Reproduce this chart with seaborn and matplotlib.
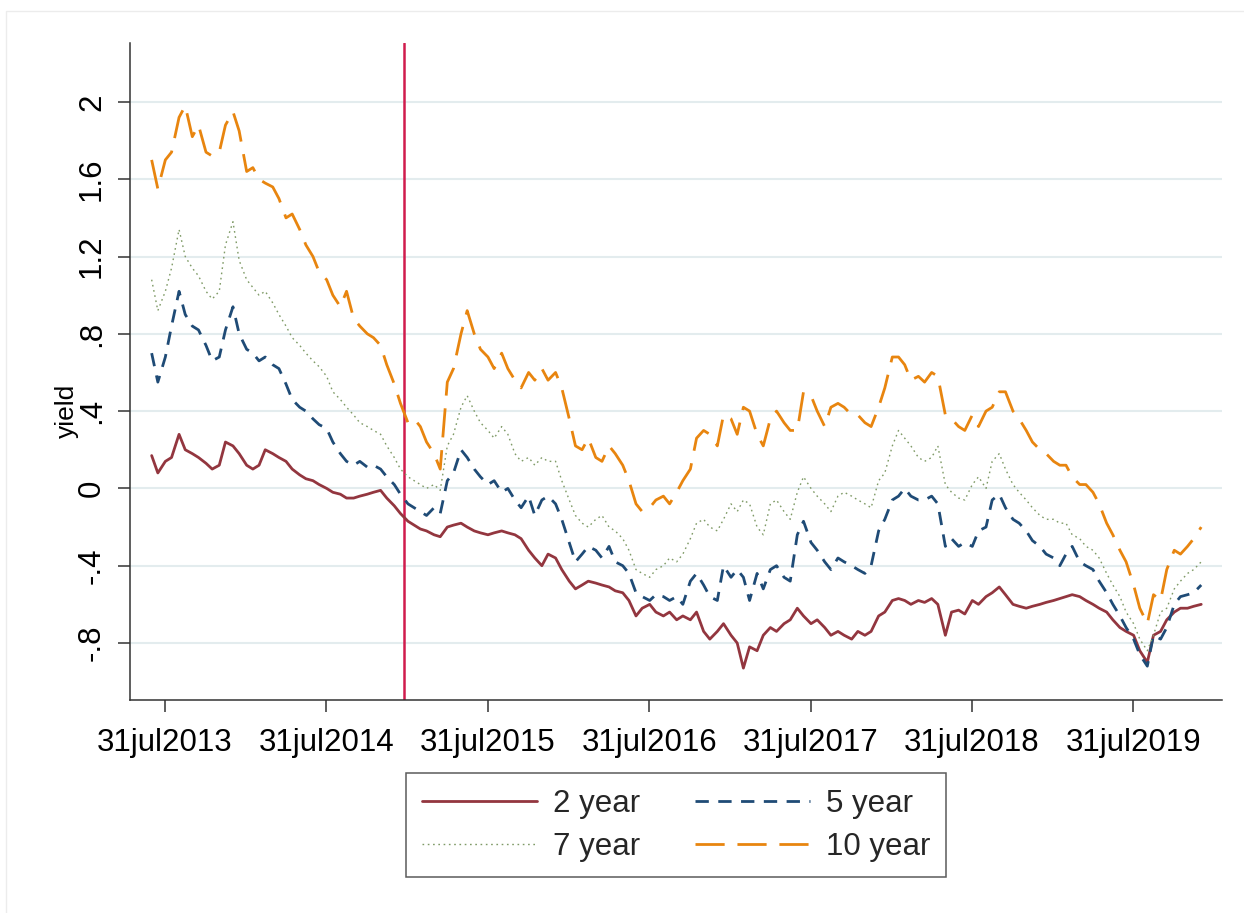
import numpy as np
import pandas as pd
import matplotlib
matplotlib.use("Agg")
import matplotlib.pyplot as plt
import matplotlib.dates as mdates
from matplotlib.patches import Rectangle
import seaborn as sns

# ---------------- data (semi-monthly readings from the chart) ----------------
dates = pd.date_range("2013-07-01", "2020-01-01", freq="SMS")

y2 = [0.17, 0.08, 0.14, 0.16, 0.28, 0.20, 0.18, 0.16, 0.13, 0.10, 0.12, 0.24,
      0.22, 0.18, 0.12, 0.10, 0.12, 0.20, 0.18, 0.16, 0.14, 0.10, 0.07, 0.05,
      0.04, 0.02, 0.00, -0.02, -0.03, -0.05, -0.05, -0.04, -0.03, -0.02, -0.01, -0.05,
      -0.09, -0.13, -0.17, -0.19, -0.21, -0.22, -0.24, -0.25, -0.20, -0.19, -0.18, -0.20,
      -0.22, -0.23, -0.24, -0.23, -0.22, -0.23, -0.24, -0.26, -0.32, -0.36, -0.40, -0.34,
      -0.36, -0.42, -0.48, -0.52, -0.50, -0.48, -0.49, -0.50, -0.51, -0.53, -0.54, -0.58,
      -0.66, -0.62, -0.60, -0.64, -0.66, -0.64, -0.68, -0.66, -0.68, -0.64, -0.74, -0.78,
      -0.74, -0.70, -0.76, -0.80, -0.93, -0.82, -0.84, -0.76, -0.72, -0.74, -0.70, -0.68,
      -0.62, -0.66, -0.70, -0.68, -0.72, -0.76, -0.74, -0.76, -0.78, -0.74, -0.76, -0.74,
      -0.66, -0.64, -0.58, -0.57, -0.58, -0.60, -0.58, -0.59, -0.57, -0.60, -0.76, -0.64,
      -0.63, -0.65, -0.58, -0.60, -0.56, -0.54, -0.51, -0.55, -0.60, -0.61, -0.62, -0.61,
      -0.60, -0.59, -0.58, -0.57, -0.56, -0.55, -0.56, -0.58, -0.60, -0.62, -0.64, -0.68,
      -0.72, -0.74, -0.76, -0.84, -0.90, -0.76, -0.74, -0.68, -0.64, -0.62, -0.62, -0.61,
      -0.60]

y5 = [0.70, 0.55, 0.68, 0.84, 1.02, 0.90, 0.84, 0.82, 0.74, 0.66, 0.68, 0.82,
      0.94, 0.80, 0.72, 0.70, 0.66, 0.68, 0.64, 0.62, 0.54, 0.46, 0.42, 0.40,
      0.36, 0.33, 0.31, 0.24, 0.18, 0.14, 0.12, 0.14, 0.11, 0.12, 0.10, 0.06,
      0.02, -0.03, -0.08, -0.10, -0.12, -0.14, -0.10, -0.13, 0.04, 0.08, 0.20, 0.16,
      0.10, 0.06, 0.02, 0.04, -0.02, 0.00, -0.06, -0.10, -0.04, -0.14, -0.06, -0.04,
      -0.08, -0.16, -0.28, -0.38, -0.34, -0.30, -0.32, -0.36, -0.30, -0.38, -0.40, -0.44,
      -0.54, -0.56, -0.58, -0.55, -0.56, -0.58, -0.56, -0.60, -0.48, -0.44, -0.50, -0.56,
      -0.58, -0.40, -0.46, -0.42, -0.46, -0.58, -0.44, -0.52, -0.42, -0.40, -0.46, -0.48,
      -0.24, -0.17, -0.28, -0.32, -0.38, -0.42, -0.36, -0.38, -0.40, -0.42, -0.44, -0.40,
      -0.22, -0.16, -0.06, -0.04, 0.00, -0.04, -0.06, -0.06, -0.04, -0.08, -0.30, -0.26,
      -0.30, -0.28, -0.30, -0.22, -0.20, -0.06, -0.03, -0.10, -0.16, -0.18, -0.22, -0.27,
      -0.30, -0.34, -0.36, -0.40, -0.34, -0.30, -0.38, -0.40, -0.42, -0.48, -0.54, -0.60,
      -0.66, -0.72, -0.78, -0.86, -0.92, -0.76, -0.78, -0.72, -0.60, -0.56, -0.55, -0.54,
      -0.50]

y7 = [1.08, 0.92, 1.02, 1.14, 1.34, 1.20, 1.14, 1.10, 1.02, 0.98, 1.02, 1.26,
      1.38, 1.18, 1.08, 1.04, 1.00, 1.02, 0.96, 0.90, 0.84, 0.78, 0.74, 0.70,
      0.66, 0.63, 0.58, 0.50, 0.46, 0.42, 0.38, 0.34, 0.32, 0.30, 0.28, 0.22,
      0.16, 0.10, 0.06, 0.04, 0.02, 0.00, 0.02, -0.01, 0.22, 0.28, 0.42, 0.48,
      0.40, 0.34, 0.30, 0.26, 0.32, 0.28, 0.18, 0.14, 0.16, 0.12, 0.16, 0.14,
      0.14, 0.04, -0.06, -0.14, -0.18, -0.20, -0.16, -0.14, -0.20, -0.22, -0.26, -0.32,
      -0.42, -0.44, -0.46, -0.42, -0.40, -0.36, -0.38, -0.34, -0.26, -0.18, -0.16, -0.20,
      -0.22, -0.16, -0.08, -0.12, -0.06, -0.08, -0.20, -0.24, -0.08, -0.06, -0.12, -0.16,
      -0.02, 0.06, 0.00, -0.04, -0.08, -0.12, -0.04, -0.02, -0.04, -0.06, -0.08, -0.10,
      0.04, 0.08, 0.22, 0.30, 0.26, 0.22, 0.16, 0.14, 0.16, 0.22, 0.02, -0.02,
      -0.05, -0.06, 0.02, 0.06, 0.00, 0.14, 0.18, 0.10, 0.02, -0.02, -0.06, -0.10,
      -0.14, -0.16, -0.16, -0.18, -0.18, -0.24, -0.26, -0.30, -0.32, -0.36, -0.44, -0.50,
      -0.56, -0.64, -0.70, -0.78, -0.84, -0.76, -0.64, -0.62, -0.52, -0.48, -0.44, -0.42,
      -0.38]

y10 = [1.70, 1.55, 1.70, 1.74, 1.92, 1.98, 1.82, 1.88, 1.74, 1.72, 1.74, 1.88,
       1.95, 1.85, 1.64, 1.66, 1.60, 1.58, 1.56, 1.50, 1.40, 1.42, 1.34, 1.26,
       1.20, 1.12, 1.08, 1.00, 0.94, 1.02, 0.88, 0.84, 0.80, 0.78, 0.74, 0.64,
       0.54, 0.44, 0.34, 0.36, 0.32, 0.24, 0.18, 0.10, 0.55, 0.62, 0.80, 0.92,
       0.80, 0.72, 0.68, 0.62, 0.70, 0.62, 0.56, 0.52, 0.60, 0.56, 0.62, 0.56,
       0.60, 0.52, 0.36, 0.22, 0.20, 0.26, 0.16, 0.14, 0.22, 0.18, 0.12, 0.04,
       -0.08, -0.12, -0.10, -0.06, -0.04, -0.08, -0.02, 0.04, 0.10, 0.26, 0.30, 0.28,
       0.22, 0.38, 0.36, 0.28, 0.42, 0.40, 0.28, 0.22, 0.36, 0.40, 0.34, 0.30,
       0.30, 0.50, 0.48, 0.40, 0.32, 0.42, 0.44, 0.42, 0.38, 0.38, 0.34, 0.32,
       0.42, 0.52, 0.68, 0.68, 0.64, 0.56, 0.58, 0.55, 0.60, 0.58, 0.38, 0.36,
       0.32, 0.30, 0.38, 0.32, 0.40, 0.42, 0.50, 0.50, 0.40, 0.36, 0.30, 0.24,
       0.20, 0.18, 0.14, 0.12, 0.12, 0.06, 0.02, 0.02, -0.02, -0.08, -0.18, -0.24,
       -0.32, -0.38, -0.50, -0.62, -0.70, -0.55, -0.58, -0.42, -0.32, -0.34, -0.30, -0.26,
       -0.20]

series_names = ["2 year", "5 year", "7 year", "10 year"]
ytick_vals = [-0.8, -0.4, 0, 0.4, 0.8, 1.2, 1.6, 2]
ytick_labels = ["-.8", "-.4", "0", ".4", ".8", "1.2", "1.6", "2"]
xtick_dates = pd.to_datetime(["2013-07-31", "2014-07-31", "2015-07-31", "2016-07-31",
                              "2017-07-31", "2018-07-31", "2019-07-31"])
xtick_labels = ["31jul2013", "31jul2014", "31jul2015", "31jul2016",
                "31jul2017", "31jul2018", "31jul2019"]
event_date = pd.Timestamp("2015-01-22")

df = pd.concat([
    pd.DataFrame({"date": dates, "yield": vals, "series": name})
    for name, vals in zip(series_names, [y2, y5, y7, y10])
], ignore_index=True)

# ---------------- style ----------------
sns.set_theme(style="white")
plt.rcParams["font.family"] = ["Liberation Sans", "DejaVu Sans"]

palette = {"2 year": "#93363f", "5 year": "#1f4b76", "7 year": "#7f9a66", "10 year": "#e8850f"}
dashes = {"2 year": "", "5 year": (4.8, 3.4), "7 year": (1.2, 2.6), "10 year": (10.5, 4.6)}
sizes = {"2 year": 2.0, "5 year": 2.0, "7 year": 1.0, "10 year": 2.0}

W, H = 1244, 913
fig = plt.figure(figsize=(W / 100, H / 100), dpi=100)
fig.patch.set_facecolor("white")
fig.patches.append(Rectangle((6 / W, -0.01), 1.0, 1 - 11 / H + 0.01,
                             transform=fig.transFigure, fill=False,
                             edgecolor="#ececec", lw=1.0))

ax = fig.add_axes([130 / W, 1 - 700 / H, (1222 - 130) / W, (700 - 43) / H])
ax.set_facecolor("white")

sns.lineplot(data=df, x="date", y="yield", hue="series", style="series", size="series",
             hue_order=series_names, style_order=series_names, size_order=series_names,
             palette=palette, dashes=dashes, sizes=sizes,
             estimator=None, errorbar=None, legend=False, ax=ax)

ax.axvline(event_date, color="#d01c4d", lw=1.8, zorder=1)

# axes limits / ticks
ax.set_ylim(-1.095, 2.305)
ax.set_xlim(pd.Timestamp("2013-05-13"), pd.Timestamp("2020-02-17"))
ax.set_yticks(ytick_vals)
ax.set_yticklabels(ytick_labels, rotation=90, va="center")
ax.set_xticks(xtick_dates)
ax.set_xticklabels(xtick_labels)
ax.tick_params(axis="both", which="major", labelsize=22.5, colors="#333333",
               labelcolor="black", length=8.5, width=1.1, direction="out",
               left=True, bottom=True)
ax.tick_params(axis="y", pad=8)
ax.tick_params(axis="x", pad=12)

ax.grid(axis="y", color="#e3ecee", lw=1.5)
ax.grid(axis="x", visible=False)
ax.set_axisbelow(True)
for side in ["top", "right"]:
    ax.spines[side].set_visible(False)
for side in ["left", "bottom"]:
    ax.spines[side].set_color("#333333")
    ax.spines[side].set_linewidth(1.1)

ax.set_xlabel("")
ax.set_ylabel("yield", fontsize=19, color="black")
ax.yaxis.set_label_coords(-0.047, 0.44)

# legend (2 columns, rows: 2y/5y, 7y/10y)
lines = {name: ln for name, ln in zip(series_names, ax.get_lines())}
order = ["2 year", "7 year", "5 year", "10 year"]
leg = fig.legend([lines[n] for n in order], order, loc="upper center",
                 bbox_to_anchor=(676 / W, 1 - 773 / H), ncol=2, fontsize=22.5,
                 frameon=True, fancybox=False, edgecolor="#333333",
                 handlelength=3.7, handletextpad=0.5, columnspacing=1.75,
                 labelspacing=0.42, borderpad=0.5, borderaxespad=0.0)
leg.get_frame().set_linewidth(1.1)

fig.savefig("out.png", dpi=100, facecolor="white")
